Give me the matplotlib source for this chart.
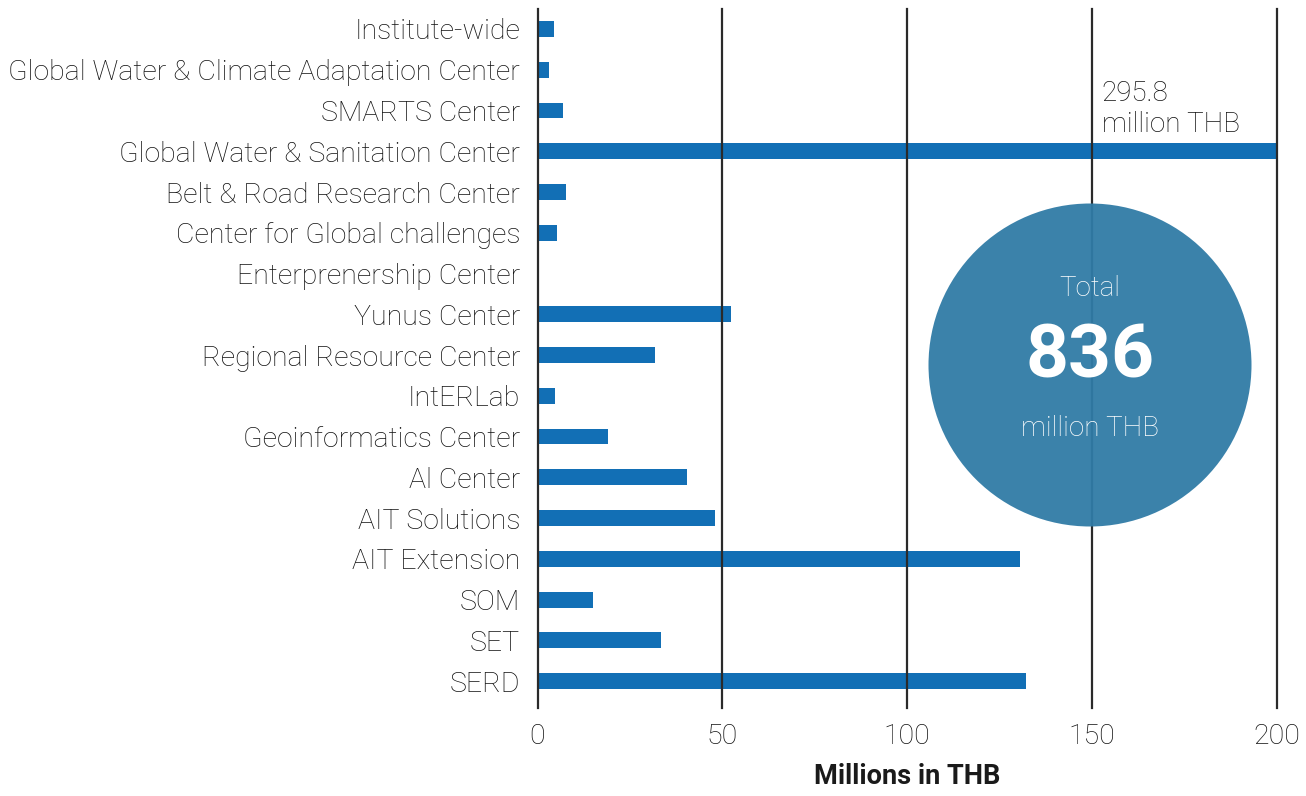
import matplotlib
matplotlib.use("Agg")
import matplotlib.pyplot as plt
from matplotlib.patches import Ellipse

categories = ["SERD", "SET", "SOM", "AIT Extension", "AIT Solutions", "Al Center",
              "Geoinformatics Center", "IntERLab", "Regional Resource Center",
              "Yunus Center", "Enterprenership Center", "Center for Global challenges",
              "Belt & Road Research Center", "Global Water & Sanitation Center",
              "SMARTS Center", "Global Water & Climate Adaptation Center", "Institute-wide"]
values = [132.2, 33.4, 15.0, 130.5, 48.0, 40.4, 19.1, 4.7, 31.8, 52.4, 0.0, 5.3,
          7.7, 295.8, 6.9, 3.1, 4.5]
xticks = [0, 50, 100, 150, 200]
total_label = "836"
big_label = "295.8\nmillion THB"

plt.rcParams['font.family'] = ['Roboto', 'DejaVu Sans']
W, H = 1306, 796
fig = plt.figure(figsize=(W / 100, H / 100), dpi=100)
left, right, top, bottom = 537.5, 1276.5, 9, 708
ax = fig.add_axes([left / W, 1 - bottom / H, (right - left) / W, (bottom - top) / H])

ypos = list(range(len(categories)))
ax.barh(ypos, values, height=0.39, color='#126FB5', zorder=2)
ax.set_xlim(0, 200)
ax.set_ylim(-0.66, len(categories) - 1 + 0.49)
for x in xticks:
    ax.axvline(x, color='#2a2a2a', lw=1.6, zorder=3, clip_on=False)

txtc = '#111111'
ax.set_xticks(xticks)
ax.set_xticklabels([str(t) for t in xticks], fontsize=20.5, fontweight='light', color=txtc)
ax.set_yticks(ypos)
ax.set_yticklabels(categories, fontsize=20.5, fontweight='light', color=txtc)
ax.tick_params(axis='both', length=0)
ax.tick_params(axis='y', pad=12.5)
ax.tick_params(axis='x', pad=10.5)
for s in ax.spines.values():
    s.set_visible(False)

ax.set_xlabel("Millions in THB", fontsize=19.5, fontweight='bold', color='#1a1a1a', labelpad=10)

# annotation for clipped bar
ax.text(152.7, 13.33, big_label, fontsize=20, fontweight='light', color=txtc,
        ha='left', va='bottom', linespacing=1.2, zorder=4)

# total circle
cx, cy, r = 1090, 365, 161.5
circ = Ellipse((cx / W, 1 - cy / H), 2 * r / W, 2 * r / H, transform=fig.transFigure,
               facecolor='#307BA6', alpha=0.95, edgecolor='none', zorder=5)
fig.patches.append(circ)
fig.text(cx / W, 1 - 289 / H, "Total", fontsize=20, fontweight='light', color='white',
         ha='center', va='center', zorder=6)
fig.text(cx / W, 1 - 358 / H, total_label, fontsize=54, fontweight='bold', color='white',
         ha='center', va='center', zorder=6)
fig.text(cx / W, 1 - 428 / H, "million THB", fontsize=20, fontweight='light', color='white',
         ha='center', va='center', zorder=6)

fig.savefig("out.png", dpi=100)
